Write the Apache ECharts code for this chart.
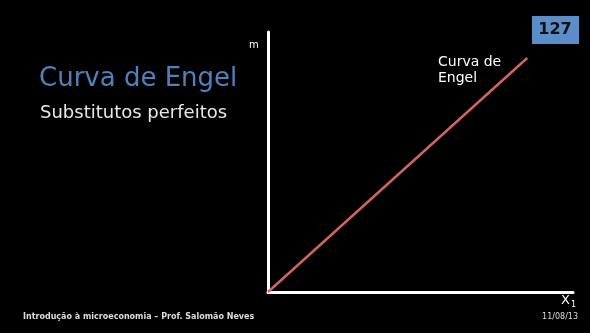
<!DOCTYPE html>
<html>
<head>
<meta charset="utf-8">
<script src="https://cdn.jsdelivr.net/npm/echarts@6/dist/echarts.min.js"></script>
<style>
  html, body { margin: 0; padding: 0; background: #000; }
  #chart { width: 590px; height: 333px; }
</style>
</head>
<body>
<div id="chart"></div>
<script>
  // curva de Engel (substitutos perfeitos): reta a partir da origem
  var renda = [0, 90];
  var qtdX1 = [0, 85];
  var eixoMax = 100;
  var textos = {
    titulo: 'Curva de Engel',
    subtitulo: 'Substitutos perfeitos',
    rotulo: 'Curva de\nEngel',
    pagina: '127',
    rodape: 'Introdução à microeconomia – Prof. Salomão Neves',
    data: '11/08/13'
  };
  var fonte = 'DejaVu Sans';

  var chart = echarts.init(document.getElementById('chart'));
  var option = {
    backgroundColor: '#000',
    animation: false,
    grid: { left: 268, right: 17, top: 32, bottom: 41 },
    xAxis: {
      type: 'value', min: 0, max: eixoMax,
      axisLine: { lineStyle: { color: '#fff', width: 3 } },
      axisTick: { show: false }, axisLabel: { show: false }, splitLine: { show: false }
    },
    yAxis: {
      type: 'value', min: 0, max: eixoMax,
      axisLine: { show: true, lineStyle: { color: '#fff', width: 3 } },
      axisTick: { show: false }, axisLabel: { show: false }, splitLine: { show: false }
    },
    series: [{
      type: 'line',
      data: qtdX1.map(function (x, i) { return [x, renda[i]]; }),
      showSymbol: false,
      lineStyle: { color: '#d0645e', width: 2.5 },
      z: 1
    }],
    graphic: [
      { type: 'text', left: 39, top: 66, style: { text: textos.titulo, fill: '#4f81bd', font: '26px "' + fonte + '"' } },
      { type: 'text', left: 40, top: 104, style: { text: textos.subtitulo, fill: '#e8e8e8', font: '18px "' + fonte + '"' } },
      { type: 'text', left: 438, top: 54, style: { text: textos.rotulo, fill: '#fff', font: '14px "' + fonte + '"', lineHeight: 16 } },
      { type: 'rect', shape: { x: 532, y: 16, width: 47, height: 28 }, style: { fill: '#5b8ec8' } },
      { type: 'text', x: 555, y: 30, style: { text: textos.pagina, fill: '#111', font: 'bold 16px "' + fonte + '"', align: 'center', verticalAlign: 'middle' } },
      { type: 'text', left: 249, top: 40, style: { text: 'm', fill: '#fff', font: '10px "' + fonte + '"' } },
      { type: 'text', left: 561, top: 294, style: {
          text: '{a|X}{b|1}', fill: '#fff',
          rich: { a: { font: '13px "' + fonte + '"', fill: '#fff' }, b: { font: '8px "' + fonte + '"', fill: '#fff', padding: [9, 0, 0, 1] } }
      } },
      { type: 'text', left: 23, top: 313, style: { text: textos.rodape, fill: '#ddd', font: 'bold 8px "' + fonte + '"' } },
      { type: 'text', right: 12, top: 313, style: { text: textos.data, fill: '#ddd', font: '8px "' + fonte + '"' } }
    ]
  };
  chart.setOption(option);
</script>
</body>
</html>
